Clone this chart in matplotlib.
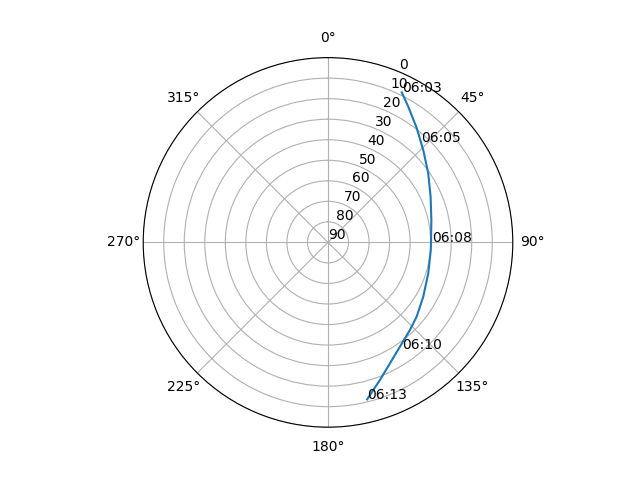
import numpy as np
from matplotlib import pyplot as plt

# satellite pass track (azimuth deg, elevation deg)
track_az = [26.2, 30.6, 37.9, 45.9, 55.4, 66.0, 77.8, 88.7, 94.2, 107.1,
            119.7, 129.9, 136.9, 145.4, 152.9, 159.3, 166.0]
track_el = [8.6, 13.2, 19.6, 25.4, 30.7, 35.3, 38.5, 39.8, 39.8, 38.9,
            36.6, 33.7, 31.6, 28.3, 23.8, 18.4, 11.2]

# time marks along the pass
mark_times = ['06:03', '06:05', '06:08', '06:10', '06:13']
mark_az = [26.2, 42.7, 89.6, 145.3, 166.0]
mark_el = [8.6, 23.2, 39.5, 26.9, 11.2]

fig = plt.figure(figsize=(6.4, 4.8), dpi=100)
ax = fig.add_subplot(111, projection='polar')
ax.set_theta_zero_location('N')
ax.set_theta_direction(-1)

ax.plot(np.radians(track_az), track_el)
for t, a, e in zip(mark_times, mark_az, mark_el):
    ax.text(np.radians(a), e, t)

ax.set_rlim(90, 0)
ax.set_yticks(range(0, 91, 10))
ax.grid(True)

plt.savefig('out.png')
